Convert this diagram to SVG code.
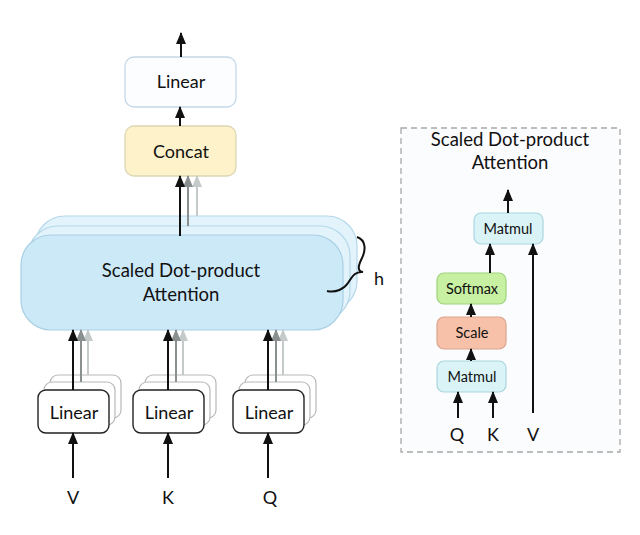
<svg xmlns="http://www.w3.org/2000/svg" width="640" height="535" viewBox="0 0 640 535">
<defs>
<marker id="ab" markerUnits="userSpaceOnUse" markerWidth="12" markerHeight="10" refX="11" refY="5" orient="auto" viewBox="0 0 12 10"><path d="M12,5 L0,0 L0,10 Z" fill="#111"/></marker>
<marker id="ag" markerUnits="userSpaceOnUse" markerWidth="12" markerHeight="10" refX="11" refY="5" orient="auto" viewBox="0 0 12 10"><path d="M12,5 L0,0 L0,10 Z" fill="#8a8f8f"/></marker>
<marker id="al" markerUnits="userSpaceOnUse" markerWidth="12" markerHeight="10" refX="11" refY="5" orient="auto" viewBox="0 0 12 10"><path d="M12,5 L0,0 L0,10 Z" fill="#c4c9c9"/></marker>
</defs>
<style>
text{font-family:Lato,"Open Sans","DejaVu Sans",sans-serif;fill:#111;text-anchor:middle}
.lbl{font-size:18px}
.big{font-size:18.5px}
.sm{font-size:14.5px}
.lin{fill:#fff;stroke:#222;stroke-width:1.4}
.linb{fill:#fff;stroke:#b8b8b8;stroke-width:1.2}
.att{fill:#cce9f8;stroke:#a8cfe4;stroke-width:1.2}
.attb{fill:#e3f3fb;stroke:#b5d8ea;stroke-width:1.2}
.cb{stroke:#111;stroke-width:2;fill:none}
.cg{stroke:#8a8f8f;stroke-width:2;fill:none}
.cl{stroke:#c4c9c9;stroke-width:2;fill:none}
</style>
<rect width="640" height="535" fill="#fff"/>

<g id="panel">
<rect x="401" y="128" width="219" height="324" fill="#fbfcfd" stroke="#a8a8a8" stroke-width="1.3" stroke-dasharray="6,4"/>
<text class="big" x="510" y="146">Scaled Dot-product</text>
<text class="big" x="510" y="169">Attention</text>
</g>

<g id="node-linear-out">
<rect x="125" y="57" width="111" height="50" rx="9" fill="#fbfdff" stroke="#c5d7e8" stroke-width="1.3"/>
<text class="lbl" x="181" y="88">Linear</text>
</g>
<g id="node-concat">
<rect x="125" y="126" width="111" height="50" rx="9" fill="#fdf2c9" stroke="#dcd6b4" stroke-width="1.3"/>
<text class="lbl" x="181" y="158">Concat</text>
</g>

<g id="node-attention">
<rect class="attb" x="35" y="216" width="322" height="95" rx="30"/>
<rect class="attb" x="28" y="226" width="322" height="95" rx="30"/>
<rect class="att" x="21" y="235" width="322" height="95" rx="30"/>
<text class="big" x="181" y="277">Scaled Dot-product</text>
<text class="big" x="181" y="301">Attention</text>
</g>

<g id="brace-h">
<path d="M357,237 C366,240 366,250 362,258 C358,266 357,271 363,272 C355,271 352,277 348,283 C344,289 336,293 327,291" fill="none" stroke="#111" stroke-width="2"/>
<text class="lbl" x="379" y="285">h</text>
</g>

<g id="node-linear-v">
<rect class="linb" x="50" y="375" width="71" height="43" rx="8"/>
<rect class="linb" x="44" y="382" width="71" height="43" rx="8"/>
<rect class="lin" x="38" y="390" width="71" height="43" rx="8"/>
<text class="lbl" x="74" y="419">Linear</text>
</g>
<g id="node-linear-k">
<rect class="linb" x="145" y="375" width="71" height="43" rx="8"/>
<rect class="linb" x="139" y="382" width="71" height="43" rx="8"/>
<rect class="lin" x="133" y="390" width="71" height="43" rx="8"/>
<text class="lbl" x="169" y="419">Linear</text>
</g>
<g id="node-linear-q">
<rect class="linb" x="245" y="375" width="71" height="43" rx="8"/>
<rect class="linb" x="239" y="382" width="71" height="43" rx="8"/>
<rect class="lin" x="233" y="390" width="71" height="43" rx="8"/>
<text class="lbl" x="269" y="419">Linear</text>
</g>

<g id="labels-left">
<text class="lbl" x="73" y="504">V</text>
<text class="lbl" x="168" y="504">K</text>
<text class="lbl" x="270" y="504">Q</text>
</g>

<g id="node-matmul2">
<rect x="474" y="213" width="69" height="31" rx="7" fill="#d9f3f7" stroke="#a9d6df" stroke-width="1.2"/>
<text class="sm" x="508" y="234">Matmul</text>
</g>
<g id="node-softmax">
<rect x="437" y="273" width="69" height="31" rx="7" fill="#c8f0a2" stroke="#9fd27c" stroke-width="1.2"/>
<text class="sm" x="472" y="294">Softmax</text>
</g>
<g id="node-scale">
<rect x="437" y="317" width="69" height="32" rx="7" fill="#f7c1a9" stroke="#dba48d" stroke-width="1.2"/>
<text class="sm" x="472" y="338">Scale</text>
</g>
<g id="node-matmul1">
<rect x="437" y="361" width="69" height="31" rx="7" fill="#d9f3f7" stroke="#a9d6df" stroke-width="1.2"/>
<text class="sm" x="472" y="382">Matmul</text>
</g>
<g id="labels-right">
<text class="lbl" x="457" y="441">Q</text>
<text class="lbl" x="493" y="441">K</text>
<text class="lbl" x="533" y="441">V</text>
</g>

<g id="connectors">
<line class="cb" x1="181" y1="57" x2="181" y2="33" marker-end="url(#ab)"/>
<line class="cb" x1="180" y1="126" x2="180" y2="107" marker-end="url(#ab)"/>
<line class="cl" x1="197" y1="216" x2="197" y2="176" marker-end="url(#al)"/>
<line class="cg" x1="188" y1="226" x2="188" y2="176" marker-end="url(#ag)"/>
<line class="cb" x1="180" y1="236" x2="180" y2="176" marker-end="url(#ab)"/>

<line class="cl" x1="88" y1="375" x2="88" y2="330" marker-end="url(#al)"/>
<line class="cg" x1="81" y1="382" x2="81" y2="330" marker-end="url(#ag)"/>
<line class="cb" x1="73" y1="390" x2="73" y2="330" marker-end="url(#ab)"/>
<line class="cl" x1="183" y1="375" x2="183" y2="330" marker-end="url(#al)"/>
<line class="cg" x1="176" y1="382" x2="176" y2="330" marker-end="url(#ag)"/>
<line class="cb" x1="168" y1="390" x2="168" y2="330" marker-end="url(#ab)"/>
<line class="cl" x1="283" y1="375" x2="283" y2="330" marker-end="url(#al)"/>
<line class="cg" x1="276" y1="382" x2="276" y2="330" marker-end="url(#ag)"/>
<line class="cb" x1="268" y1="390" x2="268" y2="330" marker-end="url(#ab)"/>

<line class="cb" x1="73" y1="478" x2="73" y2="433" marker-end="url(#ab)"/>
<line class="cb" x1="168" y1="478" x2="168" y2="433" marker-end="url(#ab)"/>
<line class="cb" x1="268" y1="478" x2="268" y2="433" marker-end="url(#ab)"/>

<line class="cb" x1="508" y1="213" x2="508" y2="190" marker-end="url(#ab)"/>
<line class="cb" x1="490" y1="273" x2="490" y2="244" marker-end="url(#ab)"/>
<line class="cb" x1="471" y1="317" x2="471" y2="304" marker-end="url(#ab)"/>
<line class="cb" x1="471" y1="361" x2="471" y2="349" marker-end="url(#ab)"/>
<line class="cb" x1="458" y1="418" x2="458" y2="392" marker-end="url(#ab)"/>
<line class="cb" x1="493" y1="418" x2="493" y2="392" marker-end="url(#ab)"/>
<line class="cb" x1="533" y1="413" x2="533" y2="244" marker-end="url(#ab)"/>
</g>
</svg>
